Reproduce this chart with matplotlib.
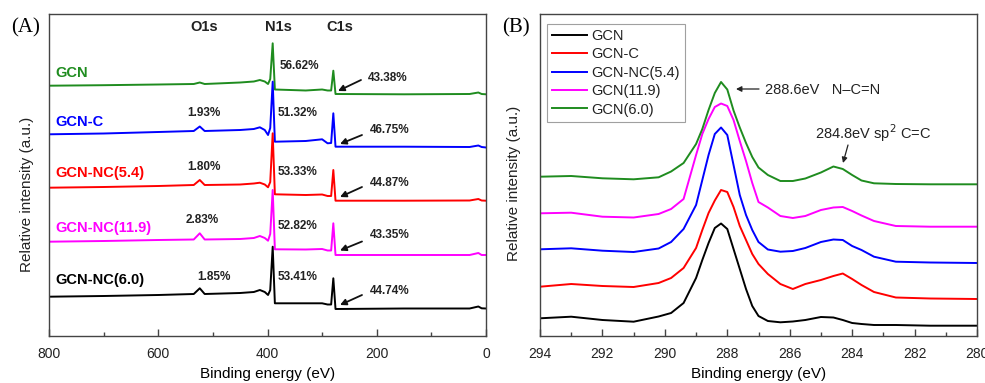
import matplotlib
matplotlib.use("Agg")
import matplotlib.pyplot as plt
from matplotlib.ticker import MultipleLocator

plt.rcParams['font.family'] = ['Liberation Sans', 'DejaVu Sans']

# ---------------- Panel A data (survey spectra) ----------------
energy_A = [800, 700, 600, 535, 524, 515, 450, 425, 414, 405, 399, 395, 390.5,
            386.5, 330, 300, 290, 283.5, 279.5, 275.5, 150, 30, 14, 8, 0]
A_GCN = [250.3, 250.8, 251.5, 252, 253.5, 252, 253.5, 254.5, 256, 254.5, 252, 257, 292.7,
         246.5, 245.5, 246.5, 245.5, 245.5, 265.3, 242, 241.7, 242, 243.5, 242, 241.7]
A_GCN_C = [201.7, 202.5, 204, 205, 209.5, 205, 206, 207, 208.7, 206, 201, 208, 254.3,
           194.3, 195, 196.7, 192.7, 193, 222.7, 189.3, 189.3, 189, 190.5, 189, 188.5]
A_NC54 = [148.3, 149, 150, 151, 156, 151, 151.5, 152.5, 153.3, 151.5, 148.7, 154, 202.7,
          141.7, 141, 141.5, 140, 140, 166, 135.3, 135.3, 135.5, 137, 135.5, 135.3]
A_NC119 = [94.3, 95, 96, 96.5, 102.7, 96.5, 97, 98, 100, 98, 95.3, 102, 146,
           86.7, 86.5, 87, 85.5, 85.5, 112.7, 81, 81, 81, 83, 81, 81]
A_NC60 = [39.3, 40, 41, 42, 47.7, 42, 43, 44, 46, 44, 41, 46, 89.3,
          32.7, 32.7, 32.7, 31.5, 31.5, 57.7, 27, 27.5, 27.5, 29.5, 27.7, 27.5]
names_A = ['GCN', 'GCN-C', 'GCN-NC(5.4)', 'GCN-NC(11.9)', 'GCN-NC(6.0)']
O1s_pct = [None, '1.93%', '1.80%', '2.83%', '1.85%']
N1s_pct = ['56.62%', '51.32%', '53.33%', '52.82%', '53.41%']
C1s_pct = ['43.38%', '46.75%', '44.87%', '43.35%', '44.74%']
xticks_A = [800, 600, 400, 200, 0]

# ---------------- Panel B data (C1s high resolution) ----------------
energy_B = [294, 293, 292, 291, 290.2, 289.8, 289.4, 289.0, 288.8, 288.6, 288.4, 288.2,
            288.0, 287.8, 287.6, 287.4, 287.2, 287.0, 286.7, 286.3, 285.9, 285.5, 285.0,
            284.6, 284.3, 284.0, 283.7, 283.3, 282.6, 281.5, 280]
B_GCN = [17.7, 19.3, 16, 14.3, 19.5, 23, 33, 58, 76, 93, 108, 112.5,
         107, 87, 67, 47, 30, 20, 15, 13.7, 14.5, 16, 19,
         18.5, 16, 13, 12, 11, 11, 10.3, 10.3]
B_GCN_C = [49.3, 52, 50, 49, 53, 58, 68, 88, 106, 123, 135.5, 146,
           144, 129, 110, 96, 82, 72, 62, 52, 47, 52, 56,
           60, 62.5, 57, 51, 44, 38.5, 37.5, 37]
B_NC54 = [86.7, 87.7, 85.3, 84, 87.5, 94, 107, 131, 156, 181, 202, 208.5,
          201, 171, 141, 121, 106, 94, 86.5, 84.3, 85, 88, 94,
          96.5, 96, 90, 86, 79.3, 74.3, 73.5, 73]
B_119 = [122.7, 123.3, 119.3, 118.5, 122, 127, 137, 181, 202, 217, 229, 232.5,
         230, 216, 195, 175, 153, 134, 128.5, 120, 118, 120, 126,
         128.5, 129, 125, 120.5, 115, 110, 109.3, 109.3]
B_60 = [159.3, 160, 157.7, 156.7, 158.7, 164.5, 173, 192, 207, 226, 243, 254,
        246.5, 225.5, 208.5, 193, 179, 168.5, 161, 155, 155, 157.5, 163.5,
        169.5, 167, 161, 155.5, 152.7, 152, 151.7, 151.7]
names_B = ['GCN', 'GCN-C', 'GCN-NC(5.4)', 'GCN(11.9)', 'GCN(6.0)']
xticks_B = [294, 292, 290, 288, 286, 284, 282, 280]

GREEN = '#1f8c1f'
colors_A = [GREEN, '#0000ff', '#ff0000', '#ff00ff', '#000000']
colors_B = ['#000000', '#ff0000', '#0000ff', '#ff00ff', GREEN]

W, H = 985, 383
fig = plt.figure(figsize=(W / 100, H / 100), dpi=100)


def P(x, y):
    return (x, H - y)


def style(ax):
    for s in ax.spines.values():
        s.set_color('#444444')
        s.set_linewidth(1.0)
    ax.tick_params(axis='x', which='both', direction='in', top=False, colors='#444444',
                   labelcolor='#222222', labelsize=10, pad=8)
    ax.tick_params(axis='x', which='major', length=5, width=1)
    ax.tick_params(axis='x', which='minor', length=3, width=1)
    ax.set_yticks([])


axA = fig.add_axes([49 / W, 47 / H, 437 / W, 322 / H])
series_A = [A_GCN, A_GCN_C, A_NC54, A_NC119, A_NC60]
for vals, c in zip(series_A, colors_A):
    axA.plot(energy_A, vals, color=c, lw=1.4, solid_joinstyle='round')
axA.set_xlim(800, 0)
axA.set_ylim(0, 322)
axA.set_xticks(xticks_A)
axA.xaxis.set_minor_locator(MultipleLocator(100))
style(axA)
axA.set_xlabel('Binding energy (eV)', fontsize=11, labelpad=4.5)

axB = fig.add_axes([540 / W, 47 / H, 437 / W, 322 / H])
series_B = [B_GCN, B_GCN_C, B_NC54, B_119, B_60]
for vals, c, n in zip(series_B, colors_B, names_B):
    axB.plot(energy_B, vals, color=c, lw=1.4, label=n, solid_joinstyle='round')
axB.set_xlim(294, 280)
axB.set_ylim(0, 322)
axB.set_xticks(xticks_B)
axB.xaxis.set_minor_locator(MultipleLocator(1))
style(axB)
axB.set_xlabel('Binding energy (eV)', fontsize=11, labelpad=4.5)
leg = axB.legend(loc='upper left', bbox_to_anchor=(0.016, 0.969), borderaxespad=0,
                 fontsize=10.5, frameon=True, fancybox=False, edgecolor='#888888',
                 handlelength=2.4, handletextpad=0.3, labelspacing=0.3, borderpad=0.35)
leg.get_frame().set_linewidth(0.8)
for t in leg.get_texts():
    t.set_color('#222222')

# y labels
fig.text(27 / W, 1 - 194 / H, 'Relative intensity (a.u.)', rotation=90, ha='center',
         va='center', fontsize=11, color='#222222')
fig.text(514 / W, 1 - 183 / H, 'Relative intensity (a.u.)', rotation=90, ha='center',
         va='center', fontsize=11, color='#222222')

# panel letters
fig.text(26 / W, 1 - 28 / H, '(A)', ha='center', va='center', fontsize=15,
         family='Liberation Serif')
fig.text(516 / W, 1 - 28 / H, '(B)', ha='center', va='center', fontsize=15,
         family='Liberation Serif')

# Panel A annotations
for txt, x in [('O1s', 204), ('N1s', 278), ('C1s', 340)]:
    fig.text(x / W, 1 - 27 / H, txt, ha='center', va='center', fontsize=10.5,
             fontweight='bold', color='#222222')

name_y = [73, 122, 173, 228, 280]
for n, c, y in zip(names_A, colors_A, name_y):
    fig.text(55 / W, 1 - y / H, n, ha='left', va='center', fontsize=10.5,
             fontweight='bold', color=c)

o_pos = [None, (187, 113), (187, 167), (186, 220), (197, 277)]
n_pos = [(280, 66), (278, 113), (278, 172), (278, 226), (278, 277)]
c_pos = [(368, 78), (370, 130), (370, 183), (370, 235), (370, 291)]
arrows_A = [((361, 80), (338, 91)), ((362, 135), (340, 144)), ((362, 187), (340, 197)),
            ((362, 241.5), (340, 250.5)), ((362, 295), (340, 305))]
for i in range(5):
    for lab, pos in [(O1s_pct[i], o_pos[i]), (N1s_pct[i], n_pos[i]), (C1s_pct[i], c_pos[i])]:
        if lab is None:
            continue
        fig.text(pos[0] / W, 1 - pos[1] / H, lab, ha='left', va='center', fontsize=8.5,
                 fontweight='bold', color='#222222')
    tail, head = arrows_A[i]
    axA.annotate('', xy=P(*head), xycoords='figure pixels', xytext=P(*tail),
                 textcoords='figure pixels',
                 arrowprops=dict(arrowstyle='-|>', color='#111111', lw=1.3,
                                 mutation_scale=9, shrinkA=0, shrinkB=0))

# Panel B annotations
fig.text(765 / W, 1 - 90 / H, '288.6eV   N\u2013C=N', ha='left', va='center', fontsize=10.5,
         color='#222222')
axB.annotate('', xy=P(736, 89), xycoords='figure pixels', xytext=P(759, 89),
             textcoords='figure pixels',
             arrowprops=dict(arrowstyle='-|>', color='#222222', lw=0.9,
                             mutation_scale=8, shrinkA=0, shrinkB=0))
fig.text(815 / W, 1 - 133 / H, '284.8eV sp$^2$ C=C', ha='left', va='center', fontsize=10.5,
         color='#222222')
axB.annotate('', xy=P(843, 163), xycoords='figure pixels', xytext=P(848, 145),
             textcoords='figure pixels',
             arrowprops=dict(arrowstyle='-|>', color='#222222', lw=0.9,
                             mutation_scale=8, shrinkA=0, shrinkB=0))

fig.savefig('out.png', dpi=100)
